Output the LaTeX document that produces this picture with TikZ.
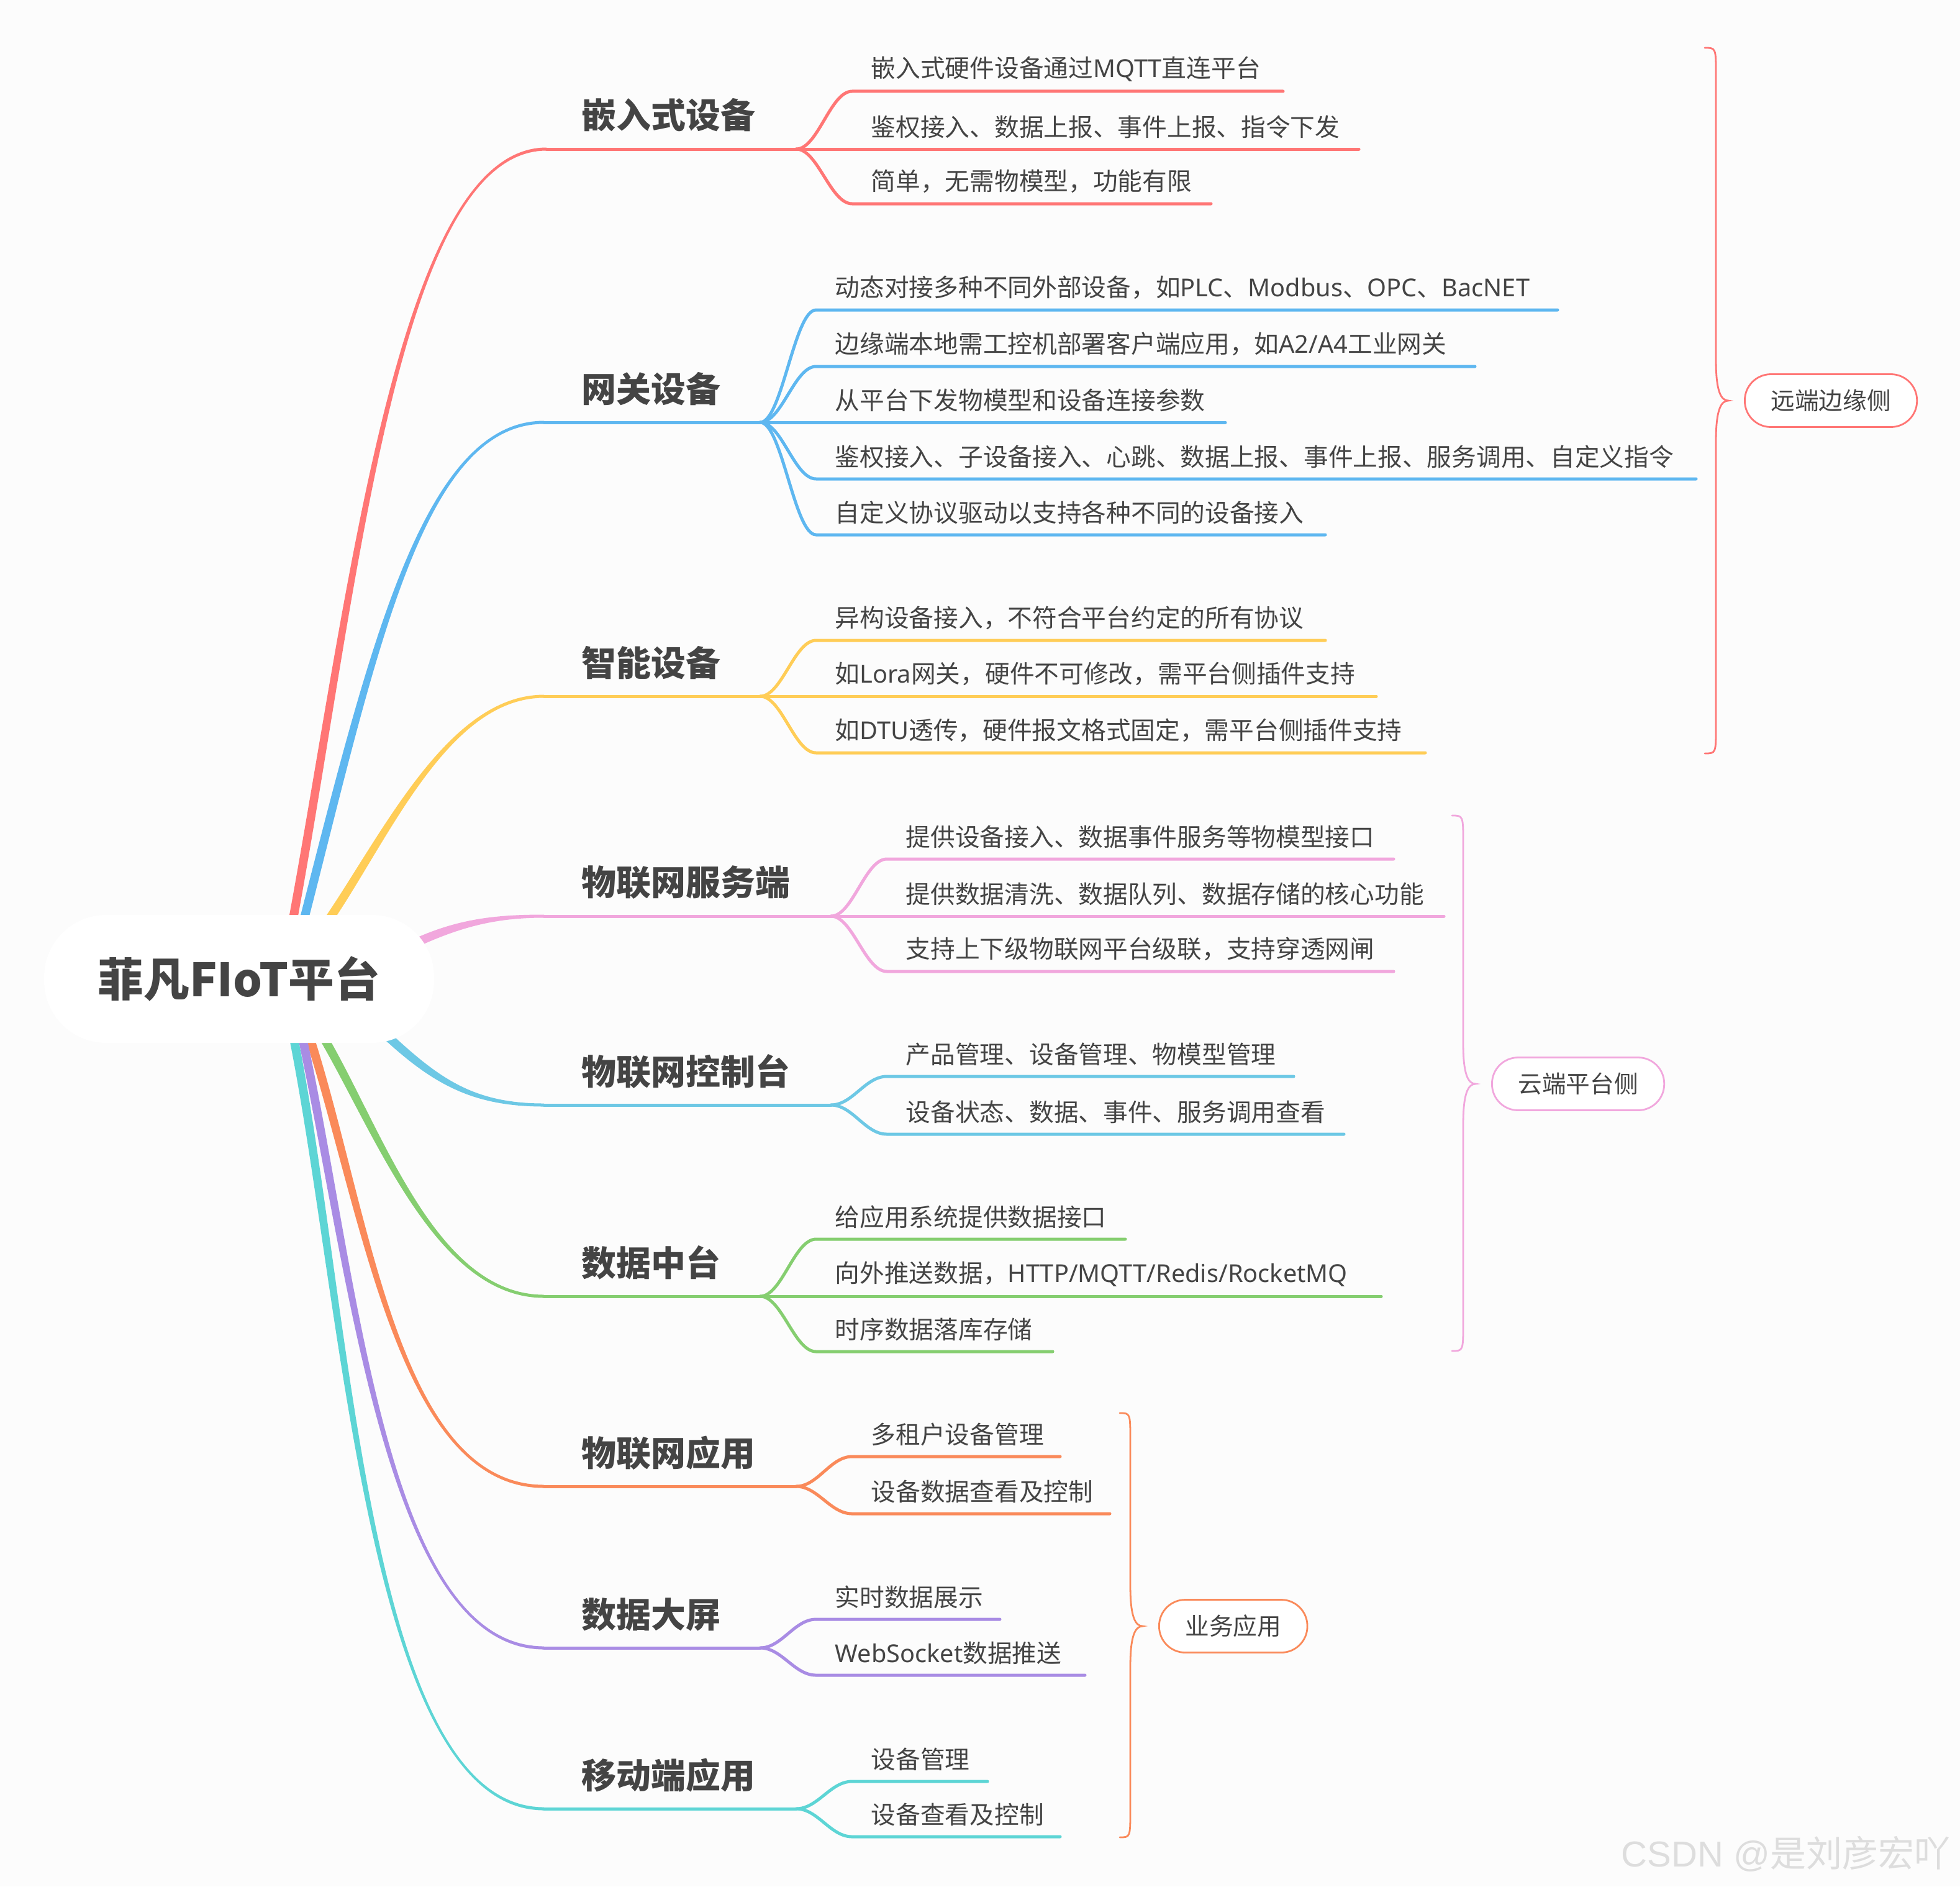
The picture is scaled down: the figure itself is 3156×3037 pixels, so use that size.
\documentclass[tikz,border=0pt]{standalone}
\usepackage{fontspec}
\setmainfont{Noto Sans CJK SC}
\newfontfamily\latf{Noto Sans}
\newfontfamily\wmf{Liberation Sans}
\usetikzlibrary{calc}
\definecolor{cRed}{HTML}{FF7675}
\definecolor{cBlue}{HTML}{5EB7F0}
\definecolor{cYel}{HTML}{FFCD57}
\definecolor{cPink}{HTML}{F1A7DD}
\definecolor{cCyan}{HTML}{6DC8E5}
\definecolor{cGreen}{HTML}{85CE70}
\definecolor{cOrg}{HTML}{FA8A5A}
\definecolor{cPur}{HTML}{A98CE4}
\definecolor{cTeal}{HTML}{5DD5D5}
\definecolor{txtc}{HTML}{444444}
\definecolor{bgc}{HTML}{FCFCFC}
\definecolor{wmc}{HTML}{DDDDDD}
\pgfdeclarelayer{bgl}
\pgfdeclarelayer{back}
\pgfsetlayers{bgl,back,main}
\newcommand\lt[1]{{\latf #1}}
\tikzset{
  txt/.style={text=txtc, inner sep=0pt, anchor=west, font=\fontsize{11.3pt}{13.6pt}\selectfont},
  lbl/.style={text=txtc, inner sep=0pt, anchor=west, font=\fontsize{15.9pt}{19pt}\selectfont\bfseries},
  rootbox/.style={fill=white, rounded corners=10mm, minimum width=62.8mm, minimum height=20.6mm, text=txtc, font=\fontsize{21pt}{25pt}\selectfont\bfseries},
  br/.style={line width=0.5mm, line cap=round},
  brc/.style={line width=0.28mm, line cap=round},
  pill/.style={draw, line width=0.28mm, fill=white, rounded corners=4.2mm, minimum height=8.5mm, inner xsep=4.2mm, inner ysep=0pt, anchor=west, text=txtc, font=\fontsize{11pt}{13pt}\selectfont},
}
% tapered main branch: color, start, control1, control2, end
\newcommand\taper[5]{%
  \fill[#1] ($(#2)!0.7mm!90:(#3)$) .. controls ($(#3)!0.7mm!-90:(#2)$) and ($(#4)!0.25mm!90:(#5)$) .. ($(#5)!0.25mm!-90:(#4)$)
    -- ($(#5)!0.25mm!90:(#4)$) .. controls ($(#4)!0.25mm!-90:(#5)$) and ($(#3)!0.7mm!90:(#2)$) .. ($(#2)!0.7mm!-90:(#3)$) -- cycle;}
% child: color, fork, name, fork x, line y, line end x, text
\newcommand\kid[7]{%
  \coordinate (#3s) at ({#4+90},#5);
  \coordinate (#3e) at (#6,#5);
  \node[txt] (#3) at ({#4+120},{#5-36}) {#7};
  \draw[br,#1] (#2) .. controls +(35,0) and +(-35,0) .. (#3s) -- (#3e);}
% brace: color, top x, vertical x, top y, tip y, bottom y
\newcommand\bracket[6]{%
  \draw[brc,#1] (#2,#4) .. controls (#3,#4) .. (#3,{#4+45}) -- (#3,{#5-65})
    .. controls (#3,{#5-15}) and ({#3+8},#5) .. ({#3+20},#5)
    .. controls ({#3+8},#5) and (#3,{#5+15}) .. (#3,{#5+65}) -- (#3,{#6-45})
    .. controls (#3,#6) .. (#2,#6);}
\begin{document}
\begin{tikzpicture}[x=0.1mm,y=-0.1mm]
\begin{pgfonlayer}{bgl}
\fill[bgc] (0,0) rectangle (3156,3037);
\end{pgfonlayer}
\useasboundingbox (0,0) rectangle (3156,3037);

\node[rootbox] (root) at (385,1576) {菲凡FIoT平台};

% ---------- branch 1
\coordinate (s1) at (470,1490);
\coordinate (e1) at (880,240);
\coordinate (f1) at (1282,240);
\begin{pgfonlayer}{back}\taper{cRed}{s1}{570,950}{640,240}{e1}\end{pgfonlayer}
\draw[br,cRed] (e1) -- (f1);
\node[lbl] (b1) at (936,185) {嵌入式设备};
\kid{cRed}{f1}{c11}{1282}{147}{2066}{嵌入式硬件设备通过\lt{MQTT}直连平台}
\kid{cRed}{f1}{c12}{1282}{240}{2188}{鉴权接入、数据上报、事件上报、指令下发}
\kid{cRed}{f1}{c13}{1282}{328}{1950}{简单，无需物模型，功能有限}

% ---------- branch 2
\coordinate (s2) at (487,1490);
\coordinate (e2) at (876,680);
\coordinate (f2) at (1224,680);
\begin{pgfonlayer}{back}\taper{cBlue}{s2}{600,1050}{680,680}{e2}\end{pgfonlayer}
\draw[br,cBlue] (e2) -- (f2);
\node[lbl] (b2) at (936,626) {网关设备};
\kid{cBlue}{f2}{c21}{1224}{499}{2508}{动态对接多种不同外部设备，如\lt{PLC}、\lt{Modbus}、\lt{OPC}、\lt{BacNET}}
\kid{cBlue}{f2}{c22}{1224}{590}{2375}{边缘端本地需工控机部署客户端应用，如\lt{A2/A4}工业网关}
\kid{cBlue}{f2}{c23}{1224}{680}{1973}{从平台下发物模型和设备连接参数}
\kid{cBlue}{f2}{c24}{1224}{771}{2731}{鉴权接入、子设备接入、心跳、数据上报、事件上报、服务调用、自定义指令}
\kid{cBlue}{f2}{c25}{1224}{861}{2134}{自定义协议驱动以支持各种不同的设备接入}

% ---------- branch 3
\coordinate (s3) at (523,1490);
\coordinate (e3) at (876,1121);
\coordinate (f3) at (1224,1121);
\begin{pgfonlayer}{back}\taper{cYel}{s3}{620,1350}{720,1121}{e3}\end{pgfonlayer}
\draw[br,cYel] (e3) -- (f3);
\node[lbl] (b3) at (936,1067) {智能设备};
\kid{cYel}{f3}{c31}{1224}{1031}{2134}{异构设备接入，不符合平台约定的所有协议}
\kid{cYel}{f3}{c32}{1224}{1121}{2216}{如\lt{Lora}网关，硬件不可修改，需平台侧插件支持}
\kid{cYel}{f3}{c33}{1224}{1212}{2295}{如\lt{DTU}透传，硬件报文格式固定，需平台侧插件支持}

% ---------- branch 4
\coordinate (s4) at (665,1520);
\coordinate (e4) at (876,1475);
\coordinate (f4) at (1338,1475);
\begin{pgfonlayer}{back}\taper{cPink}{s4}{740,1485}{800,1475}{e4}\end{pgfonlayer}
\draw[br,cPink] (e4) -- (f4);
\node[lbl] (b4) at (936,1421) {物联网服务端};
\kid{cPink}{f4}{c41}{1338}{1383}{2244}{提供设备接入、数据事件服务等物模型接口}
\kid{cPink}{f4}{c42}{1338}{1475}{2325}{提供数据清洗、数据队列、数据存储的核心功能}
\kid{cPink}{f4}{c43}{1338}{1564}{2244}{支持上下级物联网平台级联，支持穿透网闸}

% ---------- branch 5
\coordinate (s5) at (615,1660);
\coordinate (e5) at (876,1779);
\coordinate (f5) at (1338,1779);
\begin{pgfonlayer}{back}\taper{cCyan}{s5}{700,1740}{760,1779}{e5}\end{pgfonlayer}
\draw[br,cCyan] (e5) -- (f5);
\node[lbl] (b5) at (936,1725) {物联网控制台};
\kid{cCyan}{f5}{c51}{1338}{1733}{2083}{产品管理、设备管理、物模型管理}
\kid{cCyan}{f5}{c52}{1338}{1826}{2164}{设备状态、数据、事件、服务调用查看}

% ---------- branch 6
\coordinate (s6) at (516,1662);
\coordinate (e6) at (876,2087);
\coordinate (f6) at (1224,2087);
\begin{pgfonlayer}{back}\taper{cGreen}{s6}{610,1820}{700,2087}{e6}\end{pgfonlayer}
\draw[br,cGreen] (e6) -- (f6);
\node[lbl] (b6) at (936,2033) {数据中台};
\kid{cGreen}{f6}{c61}{1224}{1995}{1812}{给应用系统提供数据接口}
\kid{cGreen}{f6}{c62}{1224}{2087}{2224}{向外推送数据，\lt{HTTP/MQTT/Redis/RocketMQ}}
\kid{cGreen}{f6}{c63}{1224}{2176}{1695}{时序数据落库存储}

% ---------- branch 7
\coordinate (s7) at (496,1662);
\coordinate (e7) at (876,2393);
\coordinate (f7) at (1282,2393);
\begin{pgfonlayer}{back}\taper{cOrg}{s7}{590,1950}{640,2393}{e7}\end{pgfonlayer}
\draw[br,cOrg] (e7) -- (f7);
\node[lbl] (b7) at (936,2339) {物联网应用};
\kid{cOrg}{f7}{c71}{1282}{2345}{1707}{多租户设备管理}
\kid{cOrg}{f7}{c72}{1282}{2437}{1787}{设备数据查看及控制}

% ---------- branch 8
\coordinate (s8) at (485,1662);
\coordinate (e8) at (876,2653);
\coordinate (f8) at (1224,2653);
\begin{pgfonlayer}{back}\taper{cPur}{s8}{570,2050}{620,2653}{e8}\end{pgfonlayer}
\draw[br,cPur] (e8) -- (f8);
\node[lbl] (b8) at (936,2599) {数据大屏};
\kid{cPur}{f8}{c81}{1224}{2607}{1610}{实时数据展示}
\kid{cPur}{f8}{c82}{1224}{2697}{1747}{\lt{WebSocket}数据推送}

% ---------- branch 9
\coordinate (s9) at (471,1662);
\coordinate (e9) at (876,2912);
\coordinate (f9) at (1282,2912);
\begin{pgfonlayer}{back}\taper{cTeal}{s9}{560,2100}{590,2912}{e9}\end{pgfonlayer}
\draw[br,cTeal] (e9) -- (f9);
\node[lbl] (b9) at (936,2858) {移动端应用};
\kid{cTeal}{f9}{c91}{1282}{2868}{1590}{设备管理}
\kid{cTeal}{f9}{c92}{1282}{2957}{1707}{设备查看及控制}

% ---------- summaries
\bracket{cRed}{2745}{2763}{77}{645}{1213}
\node[pill, draw=cRed] (p1) at (2808,645) {远端边缘侧};
\bracket{cPink}{2338}{2356}{1313}{1745}{2175}
\node[pill, draw=cPink] (p2) at (2401,1745) {云端平台侧};
\bracket{cOrg}{1803}{1820}{2275}{2618}{2958}
\node[pill, draw=cOrg] (p3) at (1865,2618) {业务应用};

% ---------- watermark
\node[anchor=west, inner sep=0pt, text=wmc, font=\fontsize{16.5pt}{20pt}\selectfont] (wm) at (2610,2985) {{\wmf CSDN @}是刘彦宏吖};
\end{tikzpicture}
\end{document}
